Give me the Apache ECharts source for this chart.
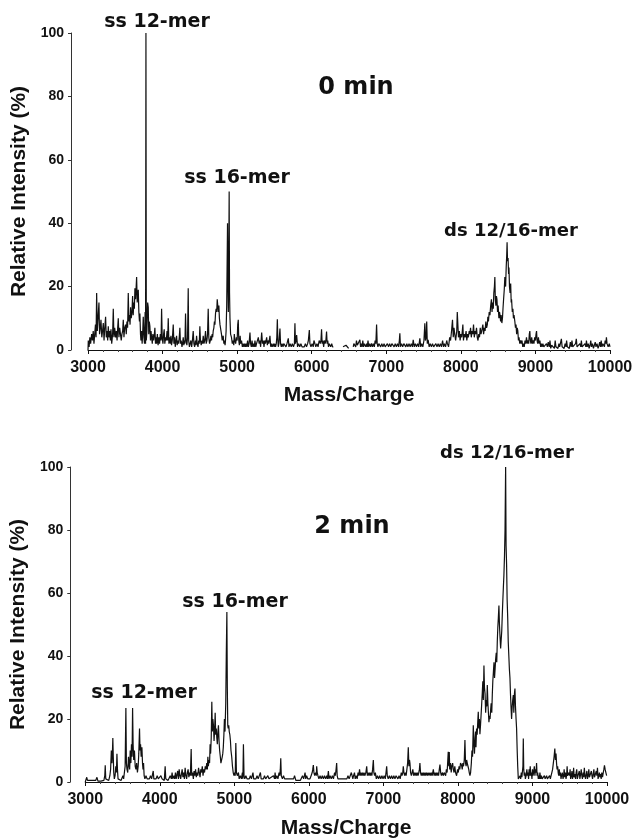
<!DOCTYPE html>
<html>
<head>
<meta charset="utf-8">
<script src="https://cdn.jsdelivr.net/npm/echarts@6/dist/echarts.min.js"></script>
<style>
  html, body { margin: 0; padding: 0; background: #fff; }
  #chart { width: 636px; height: 840px; }
</style>
</head>
<body>
<div id="chart"></div>
<script>
// axis ticks
var massTicks = [3000, 4000, 5000, 6000, 7000, 8000, 9000, 10000];
var intensityTicks = [0, 20, 40, 60, 80, 100];

// spectrum at 0 min: [mass/charge, relative intensity %], '-' = no data
var spectrum0min = [
  [3000,0],[3004,3],[3015,1],[3025,4],[3035,2],[3049,5],[3060,3],[3070,6],[3080,2],[3090,5],
  [3100,8],[3108,4],[3116,18],[3125,6],[3135,10],[3147,15],[3155,5],[3165,7],[3174,9.5],[3185,4],
  [3195,6],[3205,8.5],[3215,3],[3225,7],[3236,10.5],[3245,4],[3255,6],[3264,3],[3272,7.5],[3282,4],
  [3290,6],[3300,3],[3308,6.5],[3318,2],[3330,5],[3339,13],[3348,4],[3358,7],[3370,4],[3380,6],
  [3390,3],[3398,7],[3406,10],[3415,4],[3425,7],[3437,6.5],[3446,3],[3455,5],[3465,6],[3473,9.5],
  [3482,4],[3492,7],[3504,8],[3513,5],[3522,9],[3531,7],[3540,18],[3548,9],[3556,11],[3564,8],
  [3571,13.5],[3580,10],[3590,12],[3598,17],[3606,11],[3614,15],[3622,13],[3629,19.5],[3638,16],[3646,20],
  [3652,23],[3660,15],[3667,17],[3674,19],[3682,12],[3690,9],[3696,11.5],[3704,5],[3710,3],[3718,6],
  [3726,2],[3733,5],[3741,10.5],[3750,4],[3758,2],[3766,12],[3772,2],[3777,100],[3782,3],[3790,6],
  [3800,15],[3808,13.5],[3815,5],[3822,9],[3830,7.5],[3838,3],[3845,6],[3853,4],[3862,2],[3870,5],
  [3880,3],[3890,5],[3897,7],[3905,2],[3913,4],[3920,2],[3930,5],[3940,1.5],[3950,4],[3960,2],
  [3970,5],[3980,3],[3987,13],[3995,4],[4005,2],[4014,5],[4022,6.5],[4030,2],[4040,4],[4050,3],
  [4060,6],[4068,3],[4076,10],[4085,2],[4095,4],[4105,2],[4112,4.5],[4120,1.5],[4130,3],[4143,8],
  [4152,2],[4162,4],[4170,1],[4180,3],[4188,4.5],[4196,1.5],[4205,3],[4215,2],[4224,4],[4232,7],
  [4240,2],[4250,3],[4260,1],[4268,2],[4277,4],[4285,1.5],[4295,3],[4300,2],[4308,11.5],[4316,3],
  [4326,1.5],[4335,4],[4344,19.5],[4350,3],[4360,1],[4370,2],[4380,3],[4390,1],[4400,3],[4411,6],
  [4420,2],[4430,1],[4440,3],[4448,1.5],[4456,4.5],[4465,2],[4475,1],[4485,3],[4492,2],[4500,7.5],
  [4508,3],[4518,1.5],[4528,3],[4536,2],[4545,4.5],[4555,2],[4565,3],[4576,6],[4585,2],[4595,3],
  [4603,5],[4612,13],[4620,4],[4630,2],[4640,3],[4648,4.5],[4656,3],[4665,5],[4672,4],[4679,6],
  [4688,7],[4695,9],[4702,8],[4710,11.5],[4718,13],[4726,12],[4733,16],[4740,14],[4748,12],[4755,14],
  [4762,10],[4770,8],[4782,7.5],[4790,5],[4800,3],[4813,4.5],[4822,2],[4830,3],[4838,1.5],[4844,3],
  [4852,6],[4860,14],[4866,28],[4871,40],[4877,20],[4882,12],[4888,30],[4893,50],[4898,18],[4904,10],
  [4912,5],[4924,4],[4935,2],[4945,3],[4955,1.5],[4962,5],[4970,3],[4980,2],[4990,4],[5000,3],
  [5008,8],[5015,9.5],[5022,3],[5030,1.5],[5040,4.5],[5048,2],[5059,3],[5070,1],[5080,2],[5090,1],
  [5100,2],[5110,1],[5120,2],[5130,1],[5140,3],[5150,1],[5160,2],[5172,5.5],[5180,2],[5190,1],
  [5200,3],[5210,1],[5220,2],[5230,1],[5239,3],[5250,1],[5260,2],[5270,1.5],[5284,4],[5295,2],
  [5305,3],[5315,1],[5329,5.5],[5340,2],[5350,3],[5360,1],[5370,3],[5380,2],[5396,4],[5405,1.5],
  [5415,3],[5425,2],[5440,4.5],[5450,1],[5460,2],[5470,1],[5485,2],[5495,1],[5505,2],[5515,1],
  [5525,2],[5532,4],[5539,9.7],[5546,3],[5552,1],[5560,2],[5574,6.8],[5582,2],[5592,1],[5602,2],
  [5615,1],[5625,2],[5641,2],[5655,1],[5668,2],[5686,3.7],[5695,1],[5710,2],[5725,1],[5740,2],
  [5755,1],[5768,2],[5775,8.4],[5782,2],[5790,3],[5798,4.7],[5810,1],[5825,2],[5840,1],[5855,2],
  [5870,1],[5887,1.6],[5900,1],[5915,2],[5930,1],[5945,2],[5955,3],[5968,6.3],[5976,2],[5990,1],
  [6005,2],[6020,1],[6030,3],[6043,2],[6055,1],[6070,2],[6085,1],[6100,3],[6115,2],[6124,3],
  [6132,6.5],[6140,2],[6150,3],[6160,1],[6170,3],[6180,2],[6190,3],[6199,5.8],[6207,2],[6215,3],
  [6225,1],[6235,2],[6244,2.1],[6255,1],[6268,2],[6280,1],[6290,1],[6300,'-'],
  [6420,1],[6440,0.5],[6460,1.5],[6480,1],[6495,0.5],[6510,'-'],
  [6557,1],[6565,2],[6579,2.6],[6590,1],[6600,3],[6612,1.5],[6625,2],[6635,1],[6646,3.2],[6655,1],
  [6665,2],[6675,1],[6685,3],[6695,1],[6705,2],[6713,2.6],[6725,1],[6735,2],[6745,1],[6755,3],
  [6765,1],[6778,2],[6790,1],[6803,2.1],[6815,1],[6828,2],[6840,1],[6850,3],[6860,2],[6870,8],
  [6878,2],[6888,1],[6900,2],[6914,1.6],[6925,1],[6940,2],[6955,1],[6970,2],[6985,1],[7003,1],
  [7015,2],[7030,1],[7045,2],[7060,1],[7075,2],[7093,2.1],[7105,1],[7120,2],[7135,1],[7150,2],
  [7165,1],[7175,3],[7182,5.3],[7190,1],[7205,2],[7220,1],[7235,2],[7249,2.1],[7262,1],[7275,2],
  [7290,1],[7305,2],[7320,1],[7335,2],[7350,1],[7361,3.2],[7375,1],[7390,2],[7405,1],[7420,2],
  [7435,1],[7450,3.7],[7462,1],[7475,2],[7490,1],[7505,3],[7517,8.4],[7525,3],[7535,4],[7542,9],
  [7550,2],[7561,3.2],[7575,1],[7590,2],[7605,1],[7620,2],[7635,1],[7651,1],[7665,2],[7680,1],
  [7695,2],[7710,1],[7725,2],[7740,1],[7755,3],[7768,1],[7780,2],[7795,1],[7810,3],[7820,2],
  [7835,1],[7850,4],[7862,3],[7875,6],[7888,9.5],[7898,4],[7908,7],[7918,5],[7930,3],[7945,6],
  [7952,12],[7960,11.8],[7968,4],[7980,6],[7990,3],[8000,5],[8012,4],[8027,8],[8035,3],[8045,5],
  [8058,4],[8070,6],[8080,3],[8090,5],[8100,4],[8112,6],[8120,5],[8130,7],[8140,4],[8150,6],
  [8160,5],[8170,8],[8180,4],[8190,6],[8200,5],[8210,7],[8220,4],[8230,3],[8240,5],[8250,4],
  [8260,7],[8270,5],[8280,6],[8295,8],[8305,5],[8315,7],[8325,6],[8335,9],[8345,7],[8355,8],
  [8362,10.5],[8370,9],[8380,12],[8390,11],[8400,14],[8410,16],[8418,12],[8426,15],[8435,13],[8442,18],
  [8450,20],[8456,23],[8462,16],[8470,14],[8477,17],[8484,16],[8492,12],[8500,14],[8510,10],[8518,12],
  [8525,11],[8533,9],[8540,11],[8550,8.5],[8558,10],[8565,13],[8573,16],[8582,19],[8590,23],[8600,20],
  [8608,26],[8615,30],[8620,34],[8626,28],[8633,29],[8640,24],[8645,26],[8652,20],[8660,18],[8668,21],
  [8675,15],[8680,16],[8690,12],[8698,13],[8705,10],[8713,11],[8724,9],[8732,7],[8740,8],[8748,5],
  [8756,7],[8764,6],[8772,3],[8780,4],[8790,2],[8800,3],[8810,2],[8820,3],[8830,1],[8840,2],
  [8850,1],[8860,3],[8870,2],[8880,4],[8890,2],[8900,3],[8910,2],[8918,5],[8925,6],[8932,3],
  [8940,2],[8950,4],[8960,2],[8970,3],[8980,2],[8990,4],[9000,3],[9008,5],[9015,6],[9022,3],
  [9030,2],[9040,4],[9050,2],[9060,3],[9070,1],[9080,2],[9090,1],
  [9100,2],[9112,1],[9122,1.5],[9135,0.5],[9148,2],[9160,1],[9172,2.5],[9185,1],[9195,3],[9205,0.5],
  [9218,1.5],[9230,1],[9242,2],[9255,0.5],[9265,3],[9275,1],[9290,1.5],[9302,0.5],[9315,2],[9325,1],
  [9338,1.5],[9348,3.5],[9358,1],[9372,1.5],[9385,0.5],[9398,2],[9410,1],[9418,3],[9428,1],[9442,1.5],
  [9455,0.5],[9468,2.5],[9480,1],[9490,3],[9500,1],[9512,1.5],[9526,0.5],[9538,2],[9548,3.5],[9558,1],
  [9570,1.5],[9584,0.5],[9596,2],[9608,1],[9616,3],[9626,1],[9640,1.5],[9652,0.5],[9665,2],[9676,1],
  [9684,3],[9694,1],[9708,2],[9720,0.5],[9732,1.5],[9742,3],[9752,1],[9765,2],[9778,0.5],[9790,1.5],
  [9802,2.5],[9812,1],[9826,2],[9840,0.5],[9852,1.5],[9862,2.5],[9872,1],[9882,3],[9892,1],[9905,2],
  [9915,2.5],[9925,1],[9935,3],[9945,2],[9952,4],[9960,2],[9975,1],[9990,2],[10000,1]
];

// spectrum at 2 min
var spectrum2min = [
  [3000,0],[3010,0.5],[3020,1.5],[3030,0.5],[3045,0.3],[3060,0.5],[3080,0.3],[3100,0.5],[3120,0.3],[3140,0.5],
  [3157,1.5],[3170,0.3],[3190,0.5],[3210,0.3],[3230,0.5],[3250,0.5],[3262,2],[3268,5.3],[3275,1],[3285,0.5],
  [3300,1],[3315,0.5],[3330,2],[3340,4],[3350,10],[3358,6],[3364,9],[3370,14],[3376,8],[3382,3],
  [3390,1],[3400,2],[3410,5],[3418,3],[3425,9],[3432,4],[3440,1],[3450,0.5],[3465,1],[3480,0.5],
  [3495,1],[3505,2],[3515,1],[3525,3],[3535,5],[3545,23.5],[3552,6],[3560,4],[3570,3],[3580,8],
  [3590,5],[3596,4],[3603,10],[3612,6],[3620,12],[3628,8],[3635,23.5],[3642,12],[3650,7],[3660,10],
  [3670,5],[3680,4],[3690,6],[3700,3],[3710,5],[3718,9],[3728,17],[3735,10],[3742,12],[3750,8],
  [3760,11],[3768,6],[3775,4],[3782,6],[3790,2],[3800,1],[3815,2],[3830,1],[3845,0.5],[3860,1],
  [3875,2],[3890,1],[3900,1.5],[3912,3.5],[3920,1],[3935,0.5],[3950,1],[3965,2],[3980,1],[3990,0.5],
  [4000,1],[4015,2],[4030,1],[4045,1.5],[4060,0.5],[4072,5],[4080,1],[4095,1.5],[4110,0.5],[4125,1],
  [4140,2],[4155,1],[4165,3],[4175,1],[4190,2],[4200,1],[4210,3],[4220,1],[4230,1.5],[4240,3.5],
  [4250,1],[4260,4],[4270,2],[4280,1],[4290,2.5],[4300,4],[4310,1.5],[4320,3],[4330,1],[4340,4.5],
  [4350,2],[4360,1],[4370,3],[4380,4],[4390,1.5],[4400,3],[4410,2],[4421,10.5],[4428,2],[4440,3],
  [4450,1],[4460,3.5],[4470,2],[4480,4],[4490,1.5],[4500,3],[4510,2],[4520,4.5],[4530,3],[4540,1.5],
  [4550,4],[4560,3],[4570,5],[4580,2],[4590,4],[4600,3],[4610,5],[4620,4],[4630,6],[4638,4],
  [4645,8],[4652,5],[4660,7],[4668,6],[4675,12],[4682,9],[4690,14],[4698,25.5],[4705,16],[4712,20],
  [4720,18],[4728,13],[4735,16],[4743,22],[4750,15],[4758,17],[4765,14],[4772,12],[4780,16],[4787,18],
  [4795,13],[4803,10],[4812,8],[4820,6],[4830,6],[4838,8],[4845,9],[4852,11],[4860,15],[4867,20],
  [4875,16],[4885,25],[4892,40],[4900,54],[4906,30],[4912,18],[4918,17],[4925,18],[4932,16],[4940,15],
  [4948,13],[4955,10],[4965,8],[4975,5],[4985,3],[4995,2],[5005,3],[5012,2],[5020,12.4],[5028,3],
  [5040,2],[5055,3],[5065,1],[5080,2],[5095,1],[5108,3],[5115,1],[5122,12],[5130,2],[5140,1],
  [5155,2],[5170,1],[5185,0.5],[5200,1],[5215,2],[5230,1],[5250,3],[5260,1],[5275,0.5],[5290,1],
  [5305,2],[5320,1],[5335,0.5],[5350,3],[5360,1],[5375,0.5],[5390,1],[5405,2],[5420,1],[5435,0.5],
  [5450,2],[5465,1],[5480,0.5],[5495,1.5],[5510,1],[5525,2],[5540,1],[5547,3],[5555,1],[5570,2],
  [5585,1],[5600,3],[5610,2],[5617,4],[5623,7.5],[5630,2],[5645,1],[5660,2],[5675,1],[5690,0.5],
  [5705,1],[5720,0.5],[5735,1],[5750,0.5],[5765,1],[5780,0.5],[5795,1],[5808,2],[5815,1.5],[5825,0.5],
  [5840,1],[5855,0.5],[5870,1],[5885,0.5],[5900,1],[5915,2],[5930,1],[5940,2],[5949,3],[5958,1],
  [5970,2],[5985,1],[6000,1.5],[6015,1],[6030,2],[6045,3],[6052,4],[6060,5.4],[6068,3],[6078,2],
  [6090,3],[6100,2],[6105,5],[6112,3],[6122,2],[6135,1],[6150,2],[6165,1],[6180,2],[6195,1],
  [6210,2],[6225,1],[6240,2],[6250,1],[6262,3.5],[6270,1],[6285,2],[6300,1],[6315,2],[6330,1],
  [6345,3],[6355,2],[6365,4],[6373,6],[6380,2],[6390,1],[6405,0.5],[6420,1],[6435,0.5],[6450,1],
  [6465,0.5],[6480,1],[6495,0.5],[6510,1],[6525,2],[6540,1],[6555,2],[6570,3],[6580,2],[6590,1],
  [6600,2],[6612,3],[6622,1],[6635,2],[6648,1],[6660,3],[6670,2],[6680,4],[6690,2],[6700,3],
  [6710,2],[6720,3],[6730,2],[6740,3],[6750,2],[6765,3],[6776,5],[6785,2],[6795,3],[6805,2],
  [6815,3],[6825,2],[6835,3],[6845,2],[6855,4],[6865,7],[6872,3],[6882,2],[6892,3],[6905,1],
  [6920,2],[6935,1],[6950,2],[6965,1],[6980,2],[6995,1],[7010,2],[7025,1],[7035,3],[7044,5],
  [7052,2],[7065,1],[7080,2],[7095,1],[7110,2],[7125,1],[7140,2],[7155,1],[7170,2],[7180,2],
  [7195,1],[7210,2],[7225,1],[7240,3],[7250,2],[7260,3],[7267,5],[7275,3],[7285,2],[7295,3],
  [7305,2],[7315,4],[7325,6],[7334,11],[7342,5],[7350,7],[7356,6],[7365,3],[7375,2],[7385,3],
  [7395,4],[7405,2],[7415,3],[7425,2],[7435,3],[7445,2],[7455,3],[7465,2],[7475,3],[7483,4],
  [7490,6],[7498,3],[7508,2],[7518,3],[7528,2],[7538,3],[7548,2],[7558,3],[7568,2],[7578,3],
  [7590,2],[7600,3],[7612,2],[7624,3],[7635,2],[7645,3],[7655,2],[7662,3],[7670,4],[7680,2],
  [7690,3],[7700,2],[7710,3],[7720,2],[7730,3],[7740,2],[7750,4],[7759,5.5],[7768,3],[7778,2],
  [7790,3],[7804,2],[7815,3],[7826,3],[7835,2],[7845,4],[7855,3],[7862,6],[7870,9.6],[7878,5],
  [7884,9.5],[7890,4],[7900,6],[7910,3],[7918,5],[7929,6],[7938,4],[7948,3],[7958,5],[7968,3],
  [7982,2],[7995,4],[8005,3],[8015,5],[8025,4],[8035,6],[8049,5.3],[8058,4],[8066,6],[8075,5],
  [8085,7],[8094,13.3],[8102,6],[8110,5],[8117,7],[8125,6],[8135,5],[8145,4],[8152,3],[8161,2],
  [8170,3],[8180,6],[8188,10],[8196,8],[8206,18],[8214,12],[8222,9],[8230,14],[8236,16],[8242,11],
  [8250,17],[8258,15],[8266,19],[8273,22.3],[8280,17],[8288,20],[8295,15.2],[8303,18],[8310,21],[8318,24.4],
  [8326,28],[8334,32],[8341,26],[8349,37],[8356,30],[8364,28],[8372,22],[8380,26],[8387,24],[8394,30.8],
  [8402,25],[8409,22],[8416,19],[8424,21],[8431,20],[8439,23],[8446,25],[8454,22],[8461,27.6],[8468,32],
  [8476,35],[8484,38],[8491,33],[8499,36],[8506,39],[8514,41],[8521,38],[8528,44.5],[8535,49],[8542,52],
  [8550,56],[8557,50],[8565,46],[8573,42.4],[8580,45],[8588,48],[8595,53],[8603,58],[8610,62],[8617,65.7],
  [8625,72],[8632,80],[8640,100],[8646,75],[8653,69],[8660,58],[8668,52],[8675,44.5],[8683,40],[8690,36],
  [8698,33],[8705,28],[8712,24],[8720,20],[8728,24],[8735,26],[8743,27.6],[8750,22],[8758,28],[8765,29.7],
  [8772,24],[8780,20],[8787,17],[8795,10],[8802,5],[8810,1],[8818,1.5],[8826,1],[8834,2],[8842,1],
  [8850,3],[8858,1.5],[8865,2],[8872,5],[8877,13.8],[8883,4],[8890,2],[8898,3],[8905,1],[8915,2],
  [8925,4],[8932,2],[8940,3],[8948,1],[8955,4],[8962,2],[8970,5],[8978,2],[8985,3],[8993,1],
  [9000,4],[9008,2],[9015,3],[9025,5],[9033,2],[9040,4],[9048,3],[9055,6],[9062,2],[9070,3],
  [9078,1],[9085,2],[9092,1],[9100,3],[9110,1],[9120,2],[9130,1],[9140,0.5],[9150,1],[9160,2],
  [9170,1],[9180,0.5],[9190,2],[9200,1],[9210,0.5],[9220,1],[9230,2],[9240,1],[9250,2],[9260,3],
  [9270,4],[9280,6],[9290,8],[9300,10.6],[9308,7],[9316,9],[9323,6],[9330,4],[9338,5],[9345,3],
  [9352,2],[9360,4],[9368,2],[9375,3],[9383,1],[9390,2],
  [9400,3],[9410,1],[9418,2],[9425,4],[9433,1.5],[9442,3],[9450,1],[9458,2],[9465,5],[9472,2],
  [9480,1.5],[9490,3],[9498,2],[9505,4],[9512,1],[9522,2],[9530,3.5],[9537,1],[9546,2],[9552,4.5],
  [9560,1.5],[9570,2.5],[9578,1],[9586,3],[9594,4],[9602,1],[9612,2],[9620,1.5],[9628,3.5],[9636,1],
  [9646,2.5],[9654,4],[9662,2],[9670,1],[9680,3],[9688,1.5],[9696,4.5],[9704,2],[9712,1],[9722,2.5],
  [9730,3.5],[9738,1],[9748,2],[9756,4],[9764,1.5],[9772,2],[9780,1],[9790,3.5],[9798,2],[9806,1],
  [9815,2.5],[9824,4],[9832,1.5],[9840,2],[9848,1],[9856,3.5],[9864,2],[9872,4.5],[9880,1],[9890,2],
  [9898,3],[9906,1.5],[9914,2.5],[9922,1],[9930,3],[9940,1.5],[9950,3],[9958,4],[9966,5.3],[9975,4],
  [9985,3],[9995,2]
];

var ink = '#111';
var sans = '"Liberation Sans", Arial, sans-serif';

var makeXAxis = function(gridIndex, nameGap) {
    return {
        type: 'value',
        gridIndex: gridIndex,
        min: massTicks[0],
        max: massTicks[massTicks.length - 1],
        interval: 1000,
        name: 'Mass/Charge',
        nameLocation: 'middle',
        nameGap: nameGap,
        nameTextStyle: { color: ink, fontFamily: sans, fontWeight: 'bold', fontSize: 21 },
        axisLine: { lineStyle: { color: ink, width: 1 } },
        axisTick: { length: 4, lineStyle: { color: ink } },
        minorTick: { show: true, splitNumber: 5, length: 2, lineStyle: { color: '#444' } },
        axisLabel: {
            margin: 10,
            color: ink,
            fontFamily: sans,
            fontWeight: 'bold',
            fontSize: 16,
            formatter: function(v) { return String(v); }
        },
        splitLine: { show: false }
    };
};

var makeYAxis = function(gridIndex, offset) {
    return {
        type: 'value',
        gridIndex: gridIndex,
        min: intensityTicks[0],
        max: intensityTicks[intensityTicks.length - 1],
        interval: 20,
        offset: offset,
        name: 'Relative Intensity (%)',
        nameLocation: 'middle',
        nameGap: 32,
        nameTextStyle: { color: ink, fontFamily: sans, fontWeight: 'bold', fontSize: 21 },
        axisLine: { show: true, lineStyle: { color: '#333', width: 1 } },
        axisTick: { show: true, length: 3, lineStyle: { color: '#333' } },
        axisLabel: { margin: 7, color: ink, fontFamily: sans, fontWeight: 'bold', fontSize: 14 },
        splitLine: { show: false }
    };
};

var makeSeries = function(idx, data) {
    return {
        type: 'line',
        xAxisIndex: idx,
        yAxisIndex: idx,
        data: data,
        showSymbol: false,
        connectNulls: false,
        sampling: 'none',
        lineStyle: { color: ink, width: 1.2 },
        silent: true
    };
};

var label = function(text, x, y, size) {
    return {
        type: 'text',
        x: x,
        y: y,
        style: {
            text: text,
            fill: ink,
            font: 'bold ' + size + 'px "DejaVu Sans", sans-serif',
            align: 'center',
            verticalAlign: 'middle'
        }
    };
};

var option = {
    backgroundColor: '#fff',
    animation: false,
    grid: [
        { left: 88, right: 26, top: 33, height: 317 },
        { left: 85, right: 29, top: 467, height: 315 }
    ],
    xAxis: [makeXAxis(0, 35), makeXAxis(1, 36)],
    yAxis: [makeYAxis(0, 17), makeYAxis(1, 15)],
    series: [makeSeries(0, spectrum0min), makeSeries(1, spectrum2min)],
    graphic: [
        label('ss 12-mer', 157, 22, 19),
        label('ss 16-mer', 237, 178, 19),
        label('0 min', 356, 88, 24),
        label('ds 12/16-mer', 511, 231, 18),
        label('ds 12/16-mer', 507, 453, 18),
        label('2 min', 352, 527, 24),
        label('ss 16-mer', 235, 602, 19),
        label('ss 12-mer', 144, 693, 19)
    ]
};

echarts.init(document.getElementById('chart')).setOption(option);
</script>
</body>
</html>
